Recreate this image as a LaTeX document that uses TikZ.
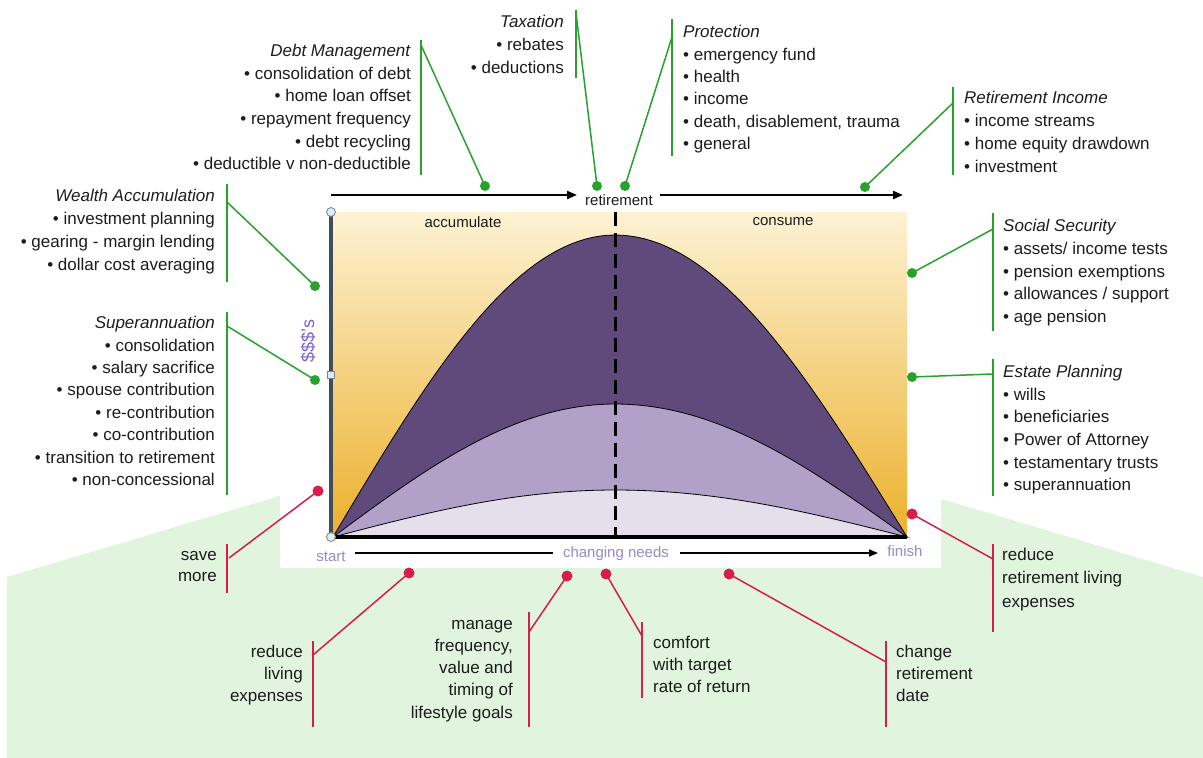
\documentclass[tikz,border=0pt]{standalone}
\usepackage{fontspec}
\setmainfont{Liberation Sans}
\usetikzlibrary{arrows.meta}

\definecolor{txt}{RGB}{28,28,28}
\definecolor{lgreen}{RGB}{40,162,44}
\definecolor{lred}{RGB}{214,30,76}
\definecolor{bggreen}{RGB}{224,244,222}
\definecolor{chtop}{RGB}{253,242,211}
\definecolor{chmid}{RGB}{246,218,160}
\definecolor{chbot}{RGB}{236,176,44}
\definecolor{darkp}{RGB}{95,74,123}
\definecolor{midp}{RGB}{177,161,201}
\definecolor{lightp}{RGB}{229,223,236}
\definecolor{slate}{RGB}{62,78,92}
\definecolor{handle}{RGB}{222,236,242}
\definecolor{axlabel}{RGB}{152,138,194}
\definecolor{dollar}{RGB}{118,98,204}

\begin{document}
\begin{tikzpicture}[x=1pt,y=-1pt,
  blockR/.style={anchor=north east,inner sep=0pt,align=right,text=txt,font=\fontsize{17}{#1}\selectfont},
  blockL/.style={anchor=north west,inner sep=0pt,align=left,text=txt,font=\fontsize{17}{#1}\selectfont},
  chartlabel/.style={inner sep=0pt,text=txt,font=\fontsize{15}{18}\selectfont},
  axislabel/.style={inner sep=0pt,text=axlabel,font=\fontsize{15}{18}\selectfont},
  gline/.style={draw=lgreen,line width=1.5pt},
  rline/.style={draw=lred,line width=1.5pt},
  gdot/.style={circle,fill=lgreen,minimum size=10pt,inner sep=0pt},
  rdot/.style={circle,fill=lred,minimum size=11pt,inner sep=0pt},
  timearrow/.style={draw=black,line width=2pt,-{Triangle[length=10pt,width=8pt]}},
  hcircle/.style={circle,draw=slate!70,fill=handle,line width=0.8pt,minimum size=9pt,inner sep=0pt},
  hsquare/.style={rectangle,draw=slate!70,fill=handle,line width=0.8pt,minimum size=7pt,inner sep=0pt},
  hump/.style={draw=black,line width=0.8pt}]
\useasboundingbox (0,0) rectangle (1203,758);

% green backdrop and the white panel behind the chart
\fill[bggreen] (7,577) -- (606,399) -- (1203,577) -- (1203,758) -- (7,758) -- cycle;
\fill[white] (280,380) rectangle (941,568);

% chart area
\shade[top color=chtop,middle color=chmid,bottom color=chbot] (333,212) rectangle (907,537);

% wealth curves: half-sine humps peaking at retirement
\fill[darkp,hump] (333,537)
  -- plot[domain=0:90,samples=40] ({333+\x/90*282},{537-302*sin(\x)})
  -- plot[domain=90:180,samples=40] ({615+(\x-90)/90*292},{537-302*sin(\x)}) -- cycle;
\fill[midp,hump] (333,537)
  -- plot[domain=0:90,samples=40] ({333+\x/90*282},{537-133*sin(\x)})
  -- plot[domain=90:180,samples=40] ({615+(\x-90)/90*292},{537-133*sin(\x)}) -- cycle;
\fill[lightp,hump] (333,537)
  -- plot[domain=0:90,samples=40] ({333+\x/90*282},{537-47*sin(\x)})
  -- plot[domain=90:180,samples=40] ({615+(\x-90)/90*292},{537-47*sin(\x)}) -- cycle;

% retirement marker
\draw[black,line width=3pt,dash pattern=on 14pt off 7pt] (615,212) -- (615,537);

% axes
\draw[slate,line width=4pt] (331,212) -- (331,537);
\draw[black,line width=3.5pt] (331,537) -- (907,537);
\node[hcircle] (htop) at (331,212) {};
\node[hcircle] (hbot) at (331,537) {};
\node[hsquare] (hmid) at (331,375) {};

% chart labels
\node[chartlabel] (accum) at (463,222) {accumulate};
\node[chartlabel] (consume) at (783,222) {consume};
\node[chartlabel] (retire) at (619,200) {retirement};
\coordinate (tlstart) at (331,195);
\coordinate (tlend) at (577,195);
\coordinate (trstart) at (660,195);
\coordinate (trend) at (903,195);
\draw[timearrow] (tlstart) -- (tlend);
\draw[timearrow] (trstart) -- (trend);
\node[axislabel] (start) at (331,557) {start};
\node[axislabel] (needs) at (616,554) {changing needs};
\node[axislabel] (finish) at (905,551) {finish};
\coordinate (blstart) at (355,553); \coordinate (blend) at (553,553);
\coordinate (brstart) at (680,553); \coordinate (brend) at (878,553);
\draw[black,line width=1.8pt] (blstart) -- (blend);
\draw[black,line width=1.8pt,-{Triangle[length=9pt,width=7pt]}] (brstart) -- (brend);
\node[inner sep=0pt,text=dollar,rotate=90,font=\fontsize{18}{20}\selectfont] (dollars) at (308,341) {\$\$\$'s};

% ---------- planning areas (green) ----------
\node[blockR=22.6] (debt) at (411,40.7) {\strut\textit{Debt Management}\\
  • consolidation of debt\\ • home loan offset\\ • repayment frequency\\
  • debt recycling\\ • deductible v non-deductible};
\coordinate (debtbt) at (421,40); \coordinate (debtbb) at (421,175);
\coordinate (debtj) at (421,45);
\node[gdot] (debtdot) at (485,186) {};
\draw[gline] (debtbt) -- (debtbb);
\draw[gline] (debtj) -- (debtdot.center);

\node[blockR=23] (tax) at (564,11.4) {\strut\textit{Taxation}\\ • rebates\\ • deductions};
\coordinate (taxbt) at (576,10); \coordinate (taxbb) at (576,78);
\coordinate (taxj) at (576,13);
\node[gdot] (taxdot) at (597,186) {};
\draw[gline] (taxbt) -- (taxbb);
\draw[gline] (taxj) -- (taxdot.center);

\node[blockL=22.4] (prot) at (683,21.8) {\strut\textit{Protection}\\ • emergency fund\\ • health\\
  • income\\ • death, disablement, trauma\\ • general};
\coordinate (protbt) at (672,19); \coordinate (protbb) at (672,156);
\coordinate (protj) at (672,37);
\node[gdot] (protdot) at (625,186) {};
\draw[gline] (protbt) -- (protbb);
\draw[gline] (protj) -- (protdot.center);

\node[blockL=23] (rinc) at (964,87.4) {\strut\textit{Retirement Income}\\ • income streams\\
  • home equity drawdown\\ • investment};
\coordinate (rincbt) at (953,87); \coordinate (rincbb) at (953,175);
\coordinate (rincj) at (953,103);
\node[gdot] (rincdot) at (865,187) {};
\draw[gline] (rincbt) -- (rincbb);
\draw[gline] (rincj) -- (rincdot.center);

\node[blockL=22.75] (social) at (1003,215.6) {\strut\textit{Social Security}\\ • assets/ income tests\\
  • pension exemptions\\ • allowances / support\\ • age pension};
\coordinate (socbt) at (993,213); \coordinate (socbb) at (993,331);
\coordinate (socj) at (993,229);
\node[gdot] (socdot) at (912,273) {};
\draw[gline] (socbt) -- (socbb);
\draw[gline] (socj) -- (socdot.center);

\node[blockL=22.6] (estate) at (1003,361.7) {\strut\textit{Estate Planning}\\ • wills\\ • beneficiaries\\
  • Power of Attorney\\ • testamentary trusts\\ • superannuation};
\coordinate (estbt) at (993,359); \coordinate (estbb) at (993,496);
\coordinate (estj) at (993,374);
\node[gdot] (estdot) at (912,377) {};
\draw[gline] (estbt) -- (estbb);
\draw[gline] (estj) -- (estdot.center);

\node[blockR=23] (wealth) at (215,185.4) {\strut\textit{Wealth Accumulation}\\ • investment planning\\
  • gearing - margin lending\\ • dollar cost averaging};
\coordinate (wealbt) at (227,184); \coordinate (wealbb) at (227,282);
\coordinate (wealj) at (227,202);
\node[gdot] (wealdot) at (315,286) {};
\draw[gline] (wealbt) -- (wealbb);
\draw[gline] (wealj) -- (wealdot.center);

\node[blockR=22.43] (super) at (215,312.8) {\strut\textit{Superannuation}\\ • consolidation\\
  • salary sacrifice\\ • spouse contribution\\ • re-contribution\\ • co-contribution\\
  • transition to retirement\\ • non-concessional};
\coordinate (supbt) at (227,312); \coordinate (supbb) at (227,495);
\coordinate (supj) at (227,326);
\node[gdot] (supdot) at (315,380) {};
\draw[gline] (supbt) -- (supbb);
\draw[gline] (supj) -- (supdot.center);

% ---------- levers (red) ----------
\node[blockR=21] (save) at (217,545.7) {\strut save\\ more};
\coordinate (savebt) at (227,544); \coordinate (savebb) at (227,593);
\coordinate (savej) at (229,558);
\node[rdot] (savedot) at (318,491) {};
\draw[rline] (savebt) -- (savebb);
\draw[rline] (savej) -- (savedot.center);

\node[blockR=22] (rle) at (303,641.6) {\strut reduce\\ living\\ expenses};
\coordinate (rlebt) at (313,641); \coordinate (rlebb) at (313,727);
\coordinate (rlej) at (313,655);
\node[rdot] (rledot) at (409,573) {};
\draw[rline] (rlebt) -- (rlebb);
\draw[rline] (rlej) -- (rledot.center);

\node[blockR=22.25] (goals) at (513,613.4) {\strut manage\\ frequency,\\ value and\\ timing of\\ lifestyle goals};
\coordinate (goalbt) at (529,612); \coordinate (goalbb) at (529,727);
\coordinate (goalj) at (529,632);
\node[rdot] (goaldot) at (567,576) {};
\draw[rline] (goalbt) -- (goalbb);
\draw[rline] (goalj) -- (goaldot.center);

\node[blockL=22] (comfort) at (653,632.6) {\strut comfort\\ with target\\ rate of return};
\coordinate (combt) at (642,622); \coordinate (combb) at (642,698);
\coordinate (comj) at (642,636);
\node[rdot] (comdot) at (606,574) {};
\draw[rline] (combt) -- (combb);
\draw[rline] (comj) -- (comdot.center);

\node[blockL=22] (change) at (896,641.6) {\strut change\\ retirement\\ date};
\coordinate (chgbt) at (886,641); \coordinate (chgbb) at (886,727);
\coordinate (chgj) at (886,662);
\node[rdot] (chgdot) at (729,574) {};
\draw[rline] (chgbt) -- (chgbb);
\draw[rline] (chgj) -- (chgdot.center);

\node[blockL=23.5] (rrle) at (1002,543.5) {\strut reduce\\ retirement living\\ expenses};
\coordinate (rrlebt) at (993,544); \coordinate (rrlebb) at (993,632);
\coordinate (rrlej) at (993,559);
\node[rdot] (rrledot) at (912,514) {};
\draw[rline] (rrlebt) -- (rrlebb);
\draw[rline] (rrlej) -- (rrledot.center);
\end{tikzpicture}
\end{document}
